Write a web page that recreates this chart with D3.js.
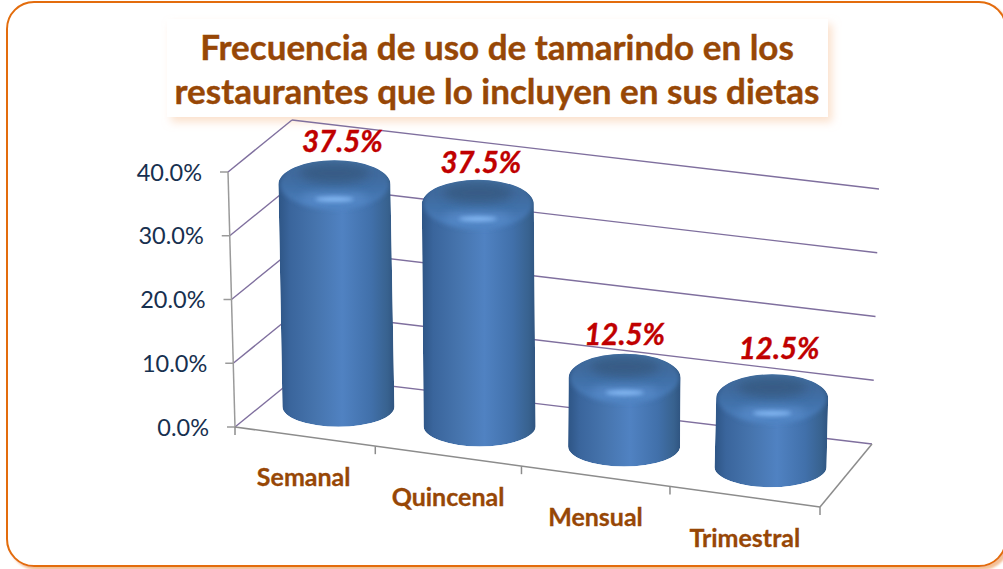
<!DOCTYPE html>
<html><head><meta charset="utf-8">
<script src="https://cdn.jsdelivr.net/npm/d3@7"></script>
<style>html,body{margin:0;padding:0;background:#fff;overflow:hidden}svg{display:block}text{font-family:Lato,"Open Sans",sans-serif}</style>
</head><body><div id="c"></div>
<script>
const categories=["Semanal","Quincenal","Mensual","Trimestral"];
const values=[37.5,37.5,12.5,12.5];
const valueLabels=["37.5%","37.5%","12.5%","12.5%"];
const tickValues=[0,10,20,30,40];
const titleLines=["Frecuencia de uso de tamarindo en los","restaurantes que lo incluyen en sus dietas"];
const labelNudgeX=[8,3,0,7];
const labelNudgeY=[-8,-7,-9,-15];

const W=1003,H=569;
const svg=d3.select("#c").append("svg").attr("width",W).attr("height",H);
const defs=svg.append("defs");

const uWarp=d3.scalePow().exponent(1.03).domain([0,1]).range([0,1]);
const band=d3.scaleBand().domain(categories).range([0,1]);
const frontX=d3.scaleLinear([0,1],[235,820]),frontY=d3.scaleLinear([0,1],[427,507]);
const backX=d3.scaleLinear([0,1],[299,872]),backY=d3.scaleLinear([0,1],[375,444]);
const rise=d3.scaleLinear([0,40],[0,255]);
const cylRise=d3.scaleLinear([0,40],[0,246]);
const lean=d3.scaleLinear([0,1],[-7,7]);
const depth=d3.scaleLinear([.375,.875],[.53,.48]);
function P(u,v,val){
  const w=uWarp(u);
  const x=frontX(w)+(backX(w)-frontX(w))*v;
  const y=frontY(w)+(backY(w)-frontY(w))*v;
  return [x+lean(w)*val/40,y-rise(val)];
}
const line=(a,b,c,w)=>svg.append("line").attr("x1",a[0]).attr("y1",a[1]).attr("x2",b[0]).attr("y2",b[1]).attr("stroke",c).attr("stroke-width",w);

// frame
defs.append("filter").attr("id","frameShadow").attr("x","-2%").attr("y","-2%").attr("width","104%").attr("height","106%")
 .append("feDropShadow").attr("dx",3).attr("dy",3).attr("stdDeviation",1).attr("flood-color","#f2b98c").attr("flood-opacity",.9);
defs.append("filter").attr("id","soft").attr("x","-20%").attr("y","-20%").attr("width","140%").attr("height","150%")
 .append("feDropShadow").attr("dx",4).attr("dy",5).attr("stdDeviation",4).attr("flood-color","#f8c8a4").attr("flood-opacity",.55);
svg.append("rect").attr("x",7).attr("y",2).attr("width",999).attr("height",564).attr("rx",27).attr("fill","#fff").attr("stroke","#E36C0A").attr("stroke-width",2).attr("filter","url(#frameShadow)");

// title
svg.append("rect").attr("x",167).attr("y",19).attr("width",661).attr("height",98).attr("fill","#fff").attr("filter","url(#soft)");
svg.append("g").selectAll("text").data(titleLines).join("text")
 .attr("x",497).attr("y",(d,i)=>60+i*44).attr("text-anchor","middle")
 .attr("font-size",35).attr("font-weight",700).attr("fill","#974706").attr("stroke","#974706").attr("stroke-width",.4).text(d=>d);

// walls
const grid="#7F6F9E";
tickValues.forEach(t=>{
  const f=P(0,0,t),b=P(0,1,t),r=P(1,1,t);
  line(f,b,grid,1.4);
  line(b,r,grid,1.4);
  line(f,[f[0]-8,f[1]],"#9a9a9a",1.5);
});
line(P(0,0,0),P(0,0,40),"#9a9a9a",1.5);
line(P(0,0,0),P(1,0,0),"#8c8c8c",1.5);
line(P(1,0,0),P(1,1,0),"#8c8c8c",1.5);
d3.range(0,5).forEach(i=>{const p=P(i/4,0,0);line(p,[p[0],p[1]+8],"#8c8c8c",1.5);});

// y labels
svg.append("g").selectAll("text").data(tickValues).join("text")
 .attr("x",t=>P(0,0,t)[0]-26).attr("y",t=>P(0,0,t)[1]+8.5).attr("text-anchor","end")
 .attr("font-size",23.5).attr("fill","#17304f").text(t=>d3.format(".1f")(t)+"%");

// gradients
const g1=defs.append("linearGradient").attr("id","body");
[[0,"#2e5585"],[.1,"#3a659c"],[.32,"#4674ad"],[.55,"#5082c2"],[.8,"#4170aa"],[.94,"#38628f"],[1,"#2f5480"]].forEach(s=>g1.append("stop").attr("offset",s[0]).attr("stop-color",s[1]));
const g2=defs.append("linearGradient").attr("id","cap").attr("x1",0).attr("y1",0).attr("x2",0).attr("y2",1);
[[0,"#44709f"],[.3,"#3f6a9d"],[.62,"#4272ab"],[1,"#4f84c4"]].forEach(s=>g2.append("stop").attr("offset",s[0]).attr("stop-color",s[1]));
defs.append("filter").attr("id","b2").attr("x","-30%").attr("y","-100%").attr("width","160%").attr("height","300%").append("feGaussianBlur").attr("stdDeviation",2);
defs.append("filter").attr("id","b5").attr("x","-30%").attr("y","-100%").attr("width","160%").attr("height","300%").append("feGaussianBlur").attr("stdDeviation",5);

// cylinders
const rx=56,capRy=24,footRy=20;
categories.forEach((c,i)=>{
  const u=band(c)+band.bandwidth()/2;
  const base=P(u,depth(u),0);
  const tx=P(u,depth(u),values[i])[0]+(i===0?1:0);
  const bx=base[0],by=base[1];
  const domeTop=by-16-cylRise(values[i]);
  const sy=domeTop+capRy;
  const shape=`M${bx-rx},${by}L${tx-rx},${sy}A${rx},${capRy} 0 0 1 ${tx+rx},${sy}L${bx+rx},${by}A${rx},${footRy} 0 0 1 ${bx-rx},${by}Z`;
  defs.append("clipPath").attr("id","cy"+i).append("path").attr("d",shape);
  const g=svg.append("g").attr("clip-path",`url(#cy${i})`);
  g.append("path").attr("d",shape).attr("fill","url(#body)");
  g.append("ellipse").attr("cx",tx).attr("cy",sy).attr("rx",rx*.97).attr("ry",capRy+1).attr("fill","url(#cap)").attr("filter","url(#b2)");
  g.append("ellipse").attr("cx",tx).attr("cy",domeTop+13).attr("rx",rx*.62).attr("ry",10).attr("fill","#36587f").attr("opacity",.75).attr("filter","url(#b5)");
  g.append("ellipse").attr("cx",tx).attr("cy",domeTop+38).attr("rx",rx*.6).attr("ry",6).attr("fill","#6a9fe0").attr("opacity",.5).attr("filter","url(#b5)");
  g.append("ellipse").attr("cx",tx).attr("cy",domeTop+39).attr("rx",rx*.34).attr("ry",2.4).attr("fill","#8cc0fa").attr("opacity",.9).attr("filter","url(#b2)");
  svg.append("text").attr("x",tx+labelNudgeX[i]).attr("y",domeTop+labelNudgeY[i]).attr("text-anchor","middle")
   .attr("font-size",29.5).attr("font-weight",700).attr("font-style","italic").attr("fill","#C00000").attr("stroke","#C00000").attr("stroke-width",.4).text(valueLabels[i]);
  const f=P(u,0,0);
  svg.append("text").attr("x",f[0]).attr("y",f[1]+50).attr("text-anchor","middle")
   .attr("font-size",25).attr("font-weight",700).attr("fill","#974706").attr("stroke","#974706").attr("stroke-width",.3).text(c);
});
</script></body></html>
